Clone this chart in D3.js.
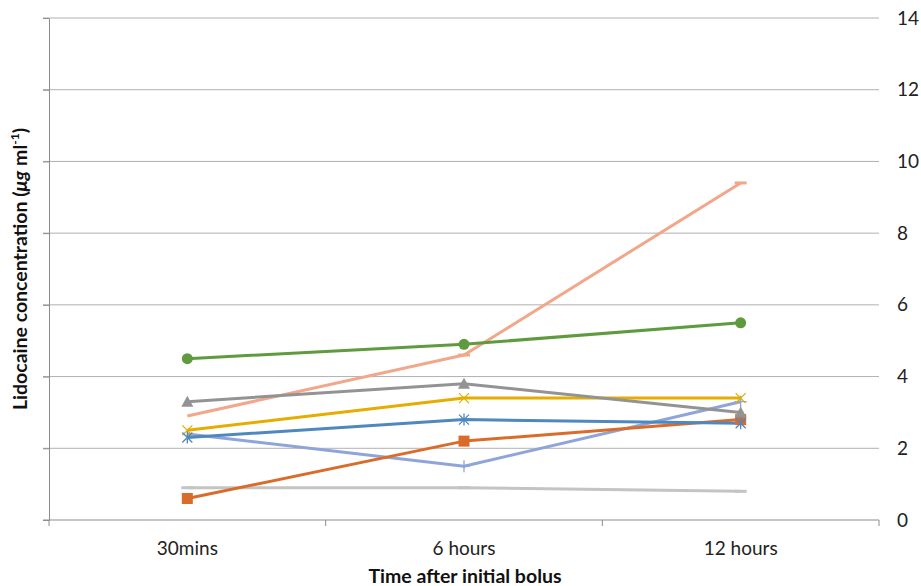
<!DOCTYPE html>
<html>
<head>
<meta charset="utf-8">
<script src="https://cdn.jsdelivr.net/npm/d3@7"></script>
<style>
  body { margin: 0; background: #fff; }
  svg { display: block; font-family: Lato, "Open Sans", sans-serif; }
</style>
</head>
<body>
<div id="chart"></div>
<script>
const categories = ['30mins', '6 hours', '12 hours'];
const yTicks = [0, 2, 4, 6, 8, 10, 12, 14];

// one array per patient line
const lavender = [2.4, 1.5, 3.3];
const lightGray = [0.9, 0.9, 0.8];
const salmon = [2.9, 4.6, 9.4];
const orange = [0.6, 2.2, 2.8];
const yellow = [2.5, 3.4, 3.4];
const gray = [3.3, 3.8, 3.0];
const green = [4.5, 4.9, 5.5];
const blue = [2.3, 2.8, 2.7];

const series = [
    { values: lavender, color: '#8fa4d9', marker: 'plus', hideFirst: true },
    { values: lightGray, color: '#c4c4c4', marker: 'dash' },
    { values: salmon, color: '#f2a68a', marker: 'dash', hideFirst: true },
    { values: orange, color: '#da6c2b', marker: 'square' },
    { values: yellow, color: '#e5ad00', marker: 'x' },
    { values: gray, color: '#939393', marker: 'triangle' },
    { values: green, color: '#5f9b3e', marker: 'circle' },
    { values: blue, color: '#4f87bf', marker: 'star' }
];

const width = 921, height = 586;
const plotLeft = 49, plotRight = 879, plotTop = 18, plotBottom = 520;

const svg = d3.select('#chart').append('svg')
    .attr('width', width)
    .attr('height', height);

const x = d3.scaleBand().domain(categories).range([plotLeft, plotRight]).padding(0);
const y = d3.scaleLinear().domain([0, 14]).range([plotBottom, plotTop]);
const cx = c => x(c) + x.bandwidth() / 2;

// gridlines
svg.append('g')
    .selectAll('line')
    .data(yTicks.filter(t => t > 0))
    .enter().append('line')
    .attr('x1', plotLeft - 6).attr('x2', plotRight)
    .attr('y1', d => y(d)).attr('y2', d => y(d))
    .attr('stroke', '#b0b0b0').attr('stroke-width', 1);

// left axis (ticks, no labels)
svg.append('g')
    .attr('transform', `translate(${plotLeft},0)`)
    .call(d3.axisLeft(y).tickValues(yTicks).tickSize(6).tickSizeOuter(0).tickFormat(''))
    .call(g => g.selectAll('line,path').attr('stroke', '#8c8c8c'));

// right labels
svg.append('g')
    .attr('transform', `translate(${plotRight},0)`)
    .call(d3.axisRight(y).tickValues(yTicks).tickSize(0).tickPadding(18))
    .call(g => g.select('.domain').remove())
    .call(g => g.selectAll('text')
        .attr('font-size', 19).attr('fill', '#222')
        .attr('font-family', 'Lato, "Open Sans", sans-serif'));

// bottom axis
const xAxisG = svg.append('g')
    .attr('transform', `translate(0,${plotBottom})`);
xAxisG.append('line')
    .attr('x1', plotLeft - 6).attr('x2', plotRight)
    .attr('stroke', '#8c8c8c');
xAxisG.selectAll('.sep')
    .data(categories.concat([null]))
    .enter().append('line')
    .attr('class', 'sep')
    .attr('x1', d => d === null ? plotRight : x(d))
    .attr('x2', d => d === null ? plotRight : x(d))
    .attr('y1', 0).attr('y2', 6)
    .attr('stroke', '#8c8c8c');
xAxisG.selectAll('text')
    .data(categories)
    .enter().append('text')
    .attr('x', d => cx(d))
    .attr('y', 35)
    .attr('text-anchor', 'middle')
    .attr('font-size', 19)
    .attr('fill', '#222')
    .text(d => d);

// axis titles
svg.append('text')
    .attr('x', (plotLeft + plotRight) / 2 + 1)
    .attr('y', 583)
    .attr('text-anchor', 'middle')
    .attr('font-size', 19.5)
    .attr('font-weight', 'bold')
    .attr('fill', '#111')
    .text('Time after initial bolus');

const yTitle = svg.append('text')
    .attr('transform', `translate(27,${(plotTop + plotBottom) / 2}) rotate(-90)`)
    .attr('text-anchor', 'middle')
    .attr('font-size', 19.5)
    .attr('font-weight', 'bold')
    .attr('fill', '#111');
yTitle.append('tspan').text('Lidocaine concentration (');
yTitle.append('tspan').attr('font-style', 'italic').text('μg');
yTitle.append('tspan').text(' ml');
yTitle.append('tspan').attr('font-size', 12).attr('dy', -8).text('-1');
yTitle.append('tspan').attr('dy', 8).text(')');

// lines
const line = d3.line()
    .x((d, i) => cx(categories[i]))
    .y(d => y(d));

series.forEach(s => {
    svg.append('path')
        .datum(s.values)
        .attr('d', line)
        .attr('fill', 'none')
        .attr('stroke', s.color)
        .attr('stroke-width', 3)
        .attr('stroke-linejoin', 'round');
});

// markers
function drawMarker(g, type, color) {
    if (type === 'circle') {
        g.append('circle').attr('r', 5.5).attr('fill', color);
    } else if (type === 'square') {
        g.append('rect').attr('x', -5.5).attr('y', -5.5).attr('width', 11).attr('height', 11).attr('fill', color);
    } else if (type === 'triangle') {
        g.append('path').attr('d', 'M0,-6L6,5L-6,5Z').attr('fill', color);
    } else if (type === 'x') {
        g.append('path').attr('d', 'M-5,-5L5,5M-5,5L5,-5').attr('stroke', color).attr('stroke-width', 1.3);
    } else if (type === 'star') {
        g.append('path').attr('d', 'M-5,-5L5,5M-5,5L5,-5M0,-6L0,6').attr('stroke', color).attr('stroke-width', 1.3);
    } else if (type === 'plus') {
        g.append('path').attr('d', 'M0,-6L0,6M-6,0L6,0').attr('stroke', color).attr('stroke-width', 1.3);
    } else if (type === 'dash') {
        g.append('path').attr('d', 'M-6,0L6,0').attr('stroke', color).attr('stroke-width', 3);
    }
}

series.forEach(s => {
    s.values.forEach((v, i) => {
        if (i === 0 && s.hideFirst) return;
        const g = svg.append('g')
            .attr('transform', `translate(${cx(categories[i])},${y(v)})`);
        drawMarker(g, s.marker, s.color);
    });
});
</script>
</body>
</html>
